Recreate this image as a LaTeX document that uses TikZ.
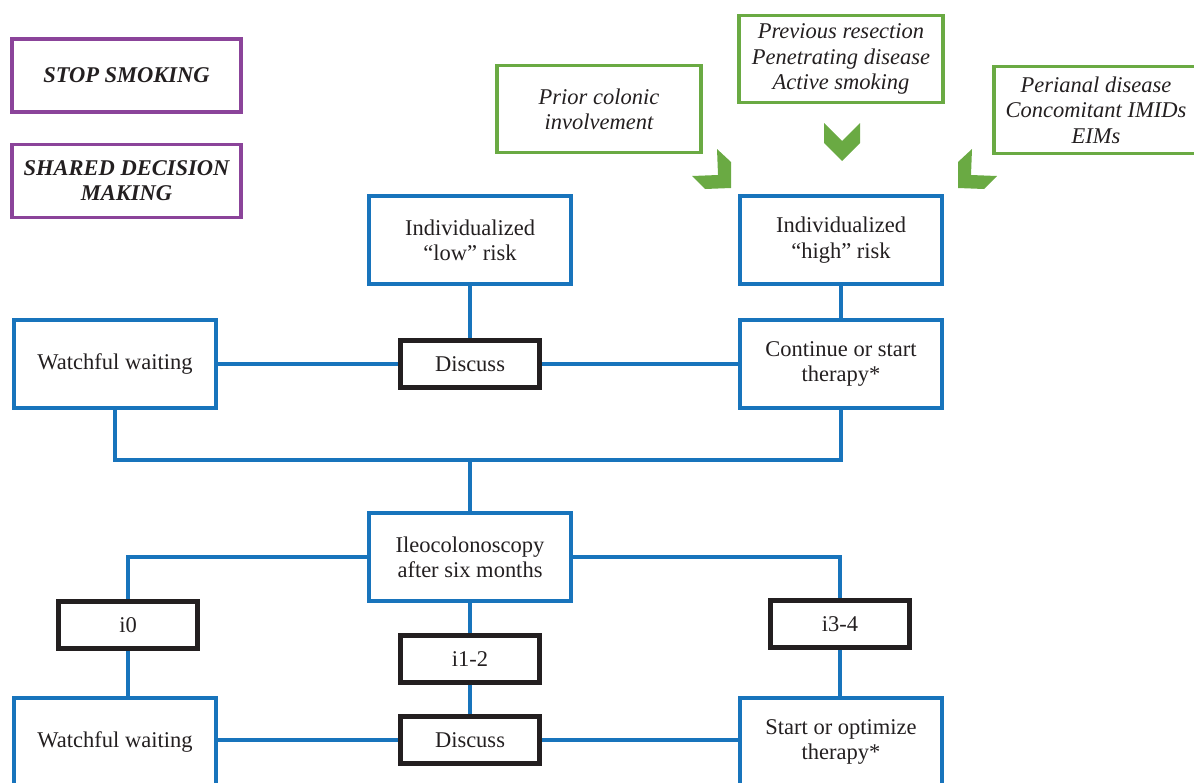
\documentclass[tikz,border=0pt]{standalone}
\usepackage{fontspec}
\setmainfont{Liberation Serif}
\usetikzlibrary{positioning}
\definecolor{flowblue}{HTML}{1874BC}
\definecolor{flowgreen}{HTML}{6AAA43}
\definecolor{flowpurple}{HTML}{8B449A}
\definecolor{flowblack}{HTML}{231F20}

\begin{document}
\begin{tikzpicture}[
      x=0.025cm, y=-0.025cm,
      font=\fontsize{16}{18}\selectfont, text=flowblack,
      bluebox/.style={draw=flowblue, line width=2.8pt, minimum width=5.05cm,
                      minimum height=2.2cm, align=center},
      darkbox/.style={draw=flowblack, line width=3.5pt, minimum width=3.475cm,
                      minimum height=1.175cm, align=center},
      riskbox/.style={draw=flowgreen, line width=2.8pt, minimum width=5.1cm,
                      minimum height=2.175cm, align=center, font=\fontsize{16}{18}\selectfont\itshape},
      notebox/.style={draw=flowpurple, line width=2.8pt, minimum width=5.725cm,
                      minimum height=1.825cm, align=center, font=\fontsize{16}{18}\selectfont\bfseries\itshape},
      ln/.style={flowblue, line width=2.8pt},
      chev/.style={fill=flowgreen},
    ]
    \useasboundingbox (0,0) rectangle (1194,782);
    \clip (0,0) rectangle (1194,782);

    \node[notebox] (smoke)  at (126.5,75.5) {STOP SMOKING};
    \node[notebox] (shared) at (126.5,181)  {SHARED DECISION\\MAKING};

    \node[riskbox] (colon)   at (599,109) {Prior colonic\\involvement};
    \node[riskbox] (resect)  at (841,59)    {Previous resection\\Penetrating disease\\Active smoking};
    \node[riskbox] (perianal) at (1096,110) {Perianal disease\\Concomitant IMIDs\\EIMs};

    \fill[chev] (824,123) -- (842,141) -- (860,123) -- (860,143) -- (842,161) -- (824,143) -- cycle;
    \fill[chev] (717,149) -- (731,162) -- (731,188) -- (705,189) -- (692,176) -- (718,175) -- cycle;
    \fill[chev] (972,149) -- (958,162) -- (958,188) -- (984,189) -- (997,176) -- (971,175) -- cycle;

    \node[bluebox] (low)   at (470,240) {Individualized\\``low'' risk};
    \node[bluebox] (high)  at (841,240) {Individualized\\``high'' risk};
    \node[bluebox] (wait1) at (115,364) {Watchful waiting};
    \node[darkbox] (disc1) at (470,364) {Discuss};
    \node[bluebox] (cont)  at (841,364) {Continue or start\\therapy*};
    \node[bluebox] (ileo)  at (470,557) {Ileocolonoscopy\\after six months};
    \node[darkbox] (i0)    at (128,625) {i0};
    \node[darkbox] (i12)   at (470,659) {i1-2};
    \node[darkbox] (i34)   at (840,624) {i3-4};
    \node[bluebox] (wait2) at (115,742) {Watchful waiting};
    \node[darkbox] (disc2) at (470,740) {Discuss};
    \node[bluebox] (optim) at (841,742) {Start or optimize\\therapy*};
    \coordinate (join) at (470,460);

    \draw[ln] (low) -- (disc1);
    \draw[ln] (high) -- (cont);
    \draw[ln] (wait1) -- (disc1);
    \draw[ln] (disc1) -- (cont);
    \draw[ln] (wait1.south) |- (join) -| (cont.south);
    \draw[ln] (join) -- (ileo.north);
    \draw[ln] (ileo.west) -| (i0.north);
    \draw[ln] (ileo.east) -| (i34.north);
    \draw[ln] (ileo) -- (i12);
    \draw[ln] (i0.south) -- (i0.south |- wait2.north);
    \draw[ln] (i12) -- (disc2);
    \draw[ln] (i34.south) -- (i34.south |- optim.north);
    \draw[ln] (wait2.east |- disc2) -- (disc2);
    \draw[ln] (disc2) -- (optim.west |- disc2);
  \end{tikzpicture}
\end{document}
